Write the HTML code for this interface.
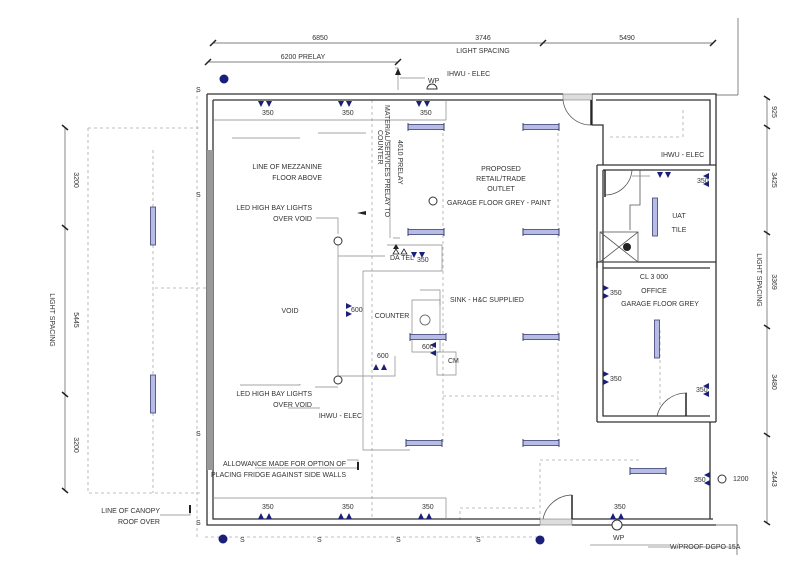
<!DOCTYPE html>
<html><head><meta charset="utf-8"><style>
html,body{margin:0;padding:0;background:#fff}
svg{display:block}
text{font-family:"Liberation Sans",sans-serif;font-size:7px;fill:#333}
</style></head><body>
<svg width="800" height="576" viewBox="0 0 800 576" xmlns="http://www.w3.org/2000/svg">
<defs>
<g id="pp"><path d="M-7,0 L-1,0 L-4,6 Z M1,0 L7,0 L4,6 Z" fill="#1a1f7a"/></g>
<g id="ppu"><path d="M-7,0 L-1,0 L-4,-6 Z M1,0 L7,0 L4,-6 Z" fill="#1a1f7a"/></g>
<g id="ppr"><path d="M0,-7 L0,-1 L-6,-4 Z M0,1 L0,7 L-6,4 Z" fill="#1a1f7a"/></g>
<g id="ppl"><path d="M0,-7 L0,-1 L6,-4 Z M0,1 L0,7 L6,4 Z" fill="#1a1f7a"/></g>
<g id="lh"><rect x="0" y="-2.5" width="36" height="5" fill="#b7bce6" stroke="#3a3f70" stroke-width="0.8"/><line x1="0" y1="-4" x2="0" y2="4" stroke="#3a3f70"/><line x1="36" y1="-4" x2="36" y2="4" stroke="#3a3f70"/></g>
<g id="lv"><rect x="-2.5" y="0" width="5" height="38" fill="#b7bce6" stroke="#3a3f70" stroke-width="0.8"/></g>
</defs>

<!-- canopy dashed -->
<g stroke="#aaa" stroke-width="0.8" fill="none" stroke-dasharray="3,3">
<path d="M88,128 H200 M88,128 V493 H200"/>
<path d="M153,245 V375 M153,413 V493"/>
<path d="M153,150 V207"/>
<path d="M155,288 H207"/>
<path d="M197,90 V540 M205,537 H545"/>
<path d="M372,100 V520"/>
<path d="M443,127 V443 M558,127 V443 M443,396 H558"/>
<path d="M540,520 V460 H640"/>
<path d="M460,520 V508 H538"/>
<path d="M660,405 V330 H655"/>
<path d="M610,137 H680 M683,110 V137"/>
</g>

<!-- left dims -->
<g stroke="#555" stroke-width="0.7">
<line x1="65" y1="127" x2="65" y2="490"/>
<path d="M62,125 L68,130 M62,225 L68,230 M62,392 L68,397 M62,488 L68,493" stroke="#222" stroke-width="1.5"/>
<line x1="213" y1="43" x2="713" y2="43"/>
<line x1="208" y1="62" x2="398" y2="62"/>
<path d="M210,46 L216,40 M540,46 L546,40 M710,46 L716,40 M205,65 L211,59 M395,65 L401,59" stroke="#222" stroke-width="1.5"/>
<line x1="738" y1="18" x2="738" y2="95"/>
<line x1="716" y1="95" x2="738" y2="95"/>
<line x1="767" y1="98" x2="767" y2="523"/>
<path d="M764,96 L770,100 M764,125 L770,129 M764,231 L770,235 M764,325 L770,329 M764,433 L770,437 M764,521 L770,525" stroke="#222" stroke-width="1.5"/>
<line x1="716" y1="525" x2="737" y2="525"/><line x1="737" y1="525" x2="737" y2="555"/>
</g>
<text x="320" y="40" text-anchor="middle">6850</text>
<text x="483" y="40" text-anchor="middle">3746</text>
<text x="627" y="40" text-anchor="middle">5490</text>
<text x="483" y="53" text-anchor="middle" font-size="6.5">LIGHT SPACING</text>
<text x="303" y="59" text-anchor="middle" font-size="6.5">6200 PRELAY</text>
<g font-size="7">
<text transform="translate(74,180) rotate(90)" text-anchor="middle">3200</text>
<text transform="translate(74,320) rotate(90)" text-anchor="middle">5445</text>
<text transform="translate(74,445) rotate(90)" text-anchor="middle">3200</text>
<text transform="translate(50,320) rotate(90)" text-anchor="middle" font-size="6">LIGHT SPACING</text>
<text transform="translate(772,112) rotate(90)" text-anchor="middle">925</text>
<text transform="translate(772,180) rotate(90)" text-anchor="middle">3425</text>
<text transform="translate(772,282) rotate(90)" text-anchor="middle">3369</text>
<text transform="translate(772,382) rotate(90)" text-anchor="middle">3480</text>
<text transform="translate(772,479) rotate(90)" text-anchor="middle">2443</text>
<text transform="translate(757,280) rotate(90)" text-anchor="middle" font-size="6">LIGHT SPACING</text>
</g>

<!-- walls -->
<g fill="none" stroke="#333" stroke-width="1.3">
<path d="M207,94 H563 M592,94 H716 V422 M207,94 V525 H540 M572,525 H716"/>
<path d="M213,100 H563 M596,100 H710 V165 M213,100 V519 H540 M572,519 H713 M710,422 V519"/>
<path d="M592,94 V125 H603 V165"/>
<path d="M597,165 H716 M603,170 H710"/>
<path d="M597,165 V422 M603,170 V416 H710 M597,422 H716"/>
<path d="M597,262 H716 M603,268 H710"/>
<path d="M597,262 V268"/>
</g>
<rect x="207" y="150" width="6" height="320" fill="#999"/>
<rect x="563" y="94" width="29" height="6" fill="#ddd" stroke="#666" stroke-width="0.5"/>
<rect x="540" y="519" width="32" height="6" fill="#ddd" stroke="#666" stroke-width="0.5"/>
<g fill="none" stroke="#555" stroke-width="0.8">
<path d="M563,100 A28,28 0 0 0 591,125"/><line x1="591" y1="100" x2="591" y2="125" stroke="#222" stroke-width="1.5"/>
<path d="M605,195 A27,27 0 0 0 632,170"/><line x1="605" y1="170" x2="605" y2="197" stroke="#222" stroke-width="1.5"/>
<path d="M657,416 A30,30 0 0 1 687,393"/><line x1="686" y1="393" x2="686" y2="416" stroke="#222" stroke-width="1.5"/>
<path d="M543,519 A30,30 0 0 1 572,495"/><line x1="572" y1="495" x2="572" y2="519" stroke="#222" stroke-width="1.5"/>
<rect x="600" y="232" width="38" height="30"/><path d="M600,232 L638,262 M638,232 L600,262"/>
<path d="M640,170 V205 H630 V230"/>
</g>
<circle cx="627" cy="247" r="4" fill="#222"/>

<!-- interior lines -->
<g fill="none" stroke="#888" stroke-width="0.7">
<path d="M213,120 H446 V100"/>
<path d="M213,498 H446 V519"/>
<path d="M363,271 H442 V245 H387"/>
<path d="M363,271 V450 H410"/>
<path d="M412,300 V352 H440 V300 Z"/>
<path d="M437,352 H456 V375 H437 Z"/>
<path d="M338,241 V380 M338,256 H385 M338,376 H395 V356"/>
<path d="M232,138 H300 M240,385 H300 V384"/>
<path d="M318,133 H366 M316,218 H338 V234"/>
<path d="M315,387 H338 M288,408 H320"/>
<path d="M420,290 H440 V305"/>
<path d="M395,68 H398 V90 M400,78 H425"/>
<path d="M390,140 V238 M393,238 H400"/>
<path d="M347,460 H358 V468 M255,468 H358"/>
<path d="M160,515 H190 V505"/>
<path d="M632,176 H650"/>
<path d="M590,545 H670" />
<path d="M648,547 H735"/>
</g>
<g fill="#222">
<path d="M357,213 L366,211 L366,215 Z"/>
<path d="M395,75 L398,68 L401,75 Z"/>
<rect x="189" y="505" width="2" height="8"/>
<rect x="357" y="462" width="2" height="8"/>
</g>

<!-- lights -->
<use href="#lh" x="408" y="127"/><use href="#lh" x="523" y="127"/>
<use href="#lh" x="408" y="232"/><use href="#lh" x="523" y="232"/>
<use href="#lh" x="410" y="337"/><use href="#lh" x="523" y="337"/>
<use href="#lh" x="406" y="443"/><use href="#lh" x="523" y="443"/>
<use href="#lh" x="630" y="471"/>
<use href="#lv" x="153" y="207"/><use href="#lv" x="153" y="375"/>
<use href="#lv" x="655" y="198"/><use href="#lv" x="657" y="320"/>

<!-- power points -->
<use href="#pp" x="265" y="101"/><use href="#pp" x="345" y="101"/><use href="#pp" x="423" y="101"/>
<use href="#pp" x="418" y="252"/>
<use href="#ppu" x="265" y="519"/><use href="#ppu" x="345" y="519"/><use href="#ppu" x="425" y="519"/><use href="#ppu" x="617" y="519"/>
<use href="#ppu" x="380" y="370"/>
<use href="#ppl" x="346" y="310"/>
<use href="#ppr" x="709" y="180"/><use href="#ppr" x="709" y="390"/><use href="#ppr" x="710" y="479"/>
<use href="#ppr" x="436" y="349"/>
<use href="#ppl" x="603" y="292"/><use href="#ppl" x="603" y="378"/>
<use href="#pp" x="664" y="172"/>
<g fill="none" stroke="#222" stroke-width="0.8"><path d="M396,249 l-3,5 h6 Z M404,249 l-3,5 h6 Z" fill="#fff"/></g>
<path d="M393,249 l3,-5 l3,5 Z" fill="#222"/>
<g font-size="4.5" fill="#555">
<text x="262" y="115">350</text><text x="342" y="115">350</text><text x="420" y="115">350</text>
<text x="262" y="509">350</text><text x="342" y="509">350</text><text x="422" y="509">350</text><text x="614" y="509">350</text>
<text x="351" y="312">600</text><text x="697" y="183">350</text><text x="610" y="295">350</text>
<text x="610" y="381">350</text><text x="696" y="392">350</text><text x="694" y="482">350</text>
<text x="422" y="349">600</text><text x="377" y="358">600</text><text x="417" y="262">350</text>
</g>

<!-- circles -->
<circle cx="224" cy="79" r="4.5" fill="#1a1f7a"/>
<circle cx="223" cy="539" r="4.5" fill="#1a1f7a"/>
<circle cx="540" cy="540" r="4.5" fill="#1a1f7a"/>
<circle cx="338" cy="241" r="4" fill="#fff" stroke="#333"/>
<circle cx="338" cy="380" r="4" fill="#fff" stroke="#333"/>
<circle cx="433" cy="201" r="4" fill="#fff" stroke="#333"/>
<circle cx="425" cy="320" r="5" fill="#fff" stroke="#777"/>
<path d="M427,89 a5,5 0 0 1 10,0 Z" fill="#fff" stroke="#333"/>
<circle cx="617" cy="525" r="5" fill="#fff" stroke="#333"/>
<circle cx="722" cy="479" r="4" fill="#fff" stroke="#333"/>

<!-- S marks -->
<g font-size="7" fill="#555">
<text x="196" y="92">S</text><text x="196" y="197">S</text><text x="196" y="436">S</text><text x="196" y="525">S</text>
<text x="240" y="542">S</text><text x="317" y="542">S</text><text x="396" y="542">S</text><text x="476" y="542">S</text>
</g>

<!-- labels -->
<g font-size="7">
<text x="447" y="76">IHWU - ELEC</text>
<text x="428" y="83" font-size="5">WP</text>
<text x="322" y="169" text-anchor="end">LINE OF MEZZANINE</text>
<text x="322" y="180" text-anchor="end">FLOOR ABOVE</text>
<text x="312" y="210" text-anchor="end">LED HIGH BAY LIGHTS</text>
<text x="312" y="221" text-anchor="end">OVER VOID</text>
<text x="312" y="396" text-anchor="end">LED HIGH BAY LIGHTS</text>
<text x="312" y="407" text-anchor="end">OVER VOID</text>
<text x="290" y="313" text-anchor="middle">VOID</text>
<text x="392" y="318" text-anchor="middle">COUNTER</text>
<text x="450" y="302">SINK - H&amp;C SUPPLIED</text>
<text x="448" y="363" font-size="6">CM</text>
<text x="390" y="260" font-size="5.5">DA TEL</text>
<text x="362" y="418" text-anchor="end">IHWU - ELEC</text>
<text x="346" y="466" text-anchor="end">ALLOWANCE MADE FOR OPTION OF</text>
<text x="346" y="477" text-anchor="end">PLACING FRIDGE AGAINST SIDE WALLS</text>
<text x="160" y="513" text-anchor="end">LINE OF CANOPY</text>
<text x="160" y="524" text-anchor="end">ROOF OVER</text>
<text x="501" y="171" text-anchor="middle">PROPOSED</text>
<text x="501" y="181" text-anchor="middle">RETAIL/TRADE</text>
<text x="501" y="191" text-anchor="middle">OUTLET</text>
<text x="447" y="205">GARAGE FLOOR GREY - PAINT</text>
<text x="661" y="157">IHWU - ELEC</text>
<text x="679" y="218" text-anchor="middle">UAT</text>
<text x="679" y="232" text-anchor="middle">TILE</text>
<text x="654" y="279" text-anchor="middle">CL 3 000</text>
<text x="654" y="293" text-anchor="middle">OFFICE</text>
<text x="660" y="306" text-anchor="middle">GARAGE FLOOR GREY</text>
<text x="733" y="481">1200</text>
<text x="670" y="549" font-size="6.5">W/PROOF DGPO 15A</text>
<text x="613" y="540" font-size="5">WP</text>
<text transform="translate(385,105) rotate(90)" font-size="5.5">MATERIAL/SERVICES PRELAY TO</text>
<text transform="translate(378,130) rotate(90)" font-size="5.5">COUNTER</text>
<text transform="translate(398,140) rotate(90)" font-size="6">4610 PRELAY</text>
</g>
</svg>
</body></html>
